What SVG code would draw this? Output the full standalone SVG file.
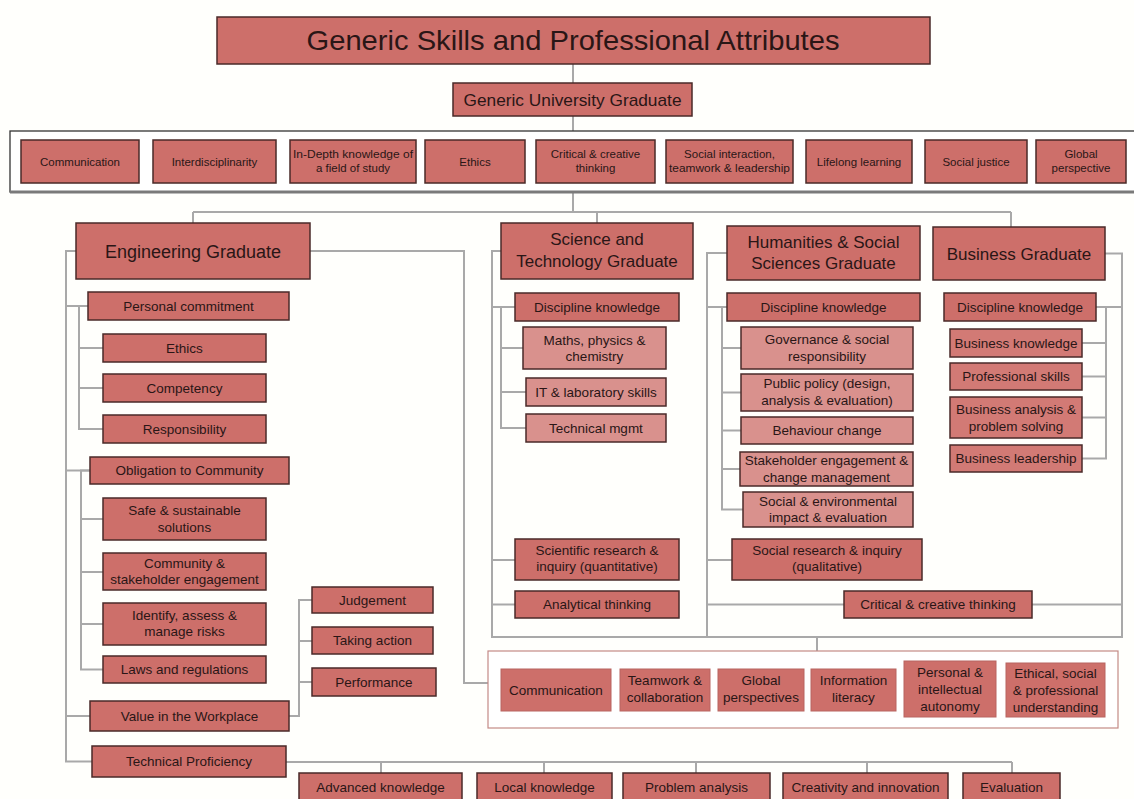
<svg xmlns="http://www.w3.org/2000/svg" width="1134" height="799" viewBox="0 0 1134 799">
<style>
.bg{fill:#fffffc}
.b{fill:#cd6f6a;stroke:#4a2a28;stroke-width:1.5}
.l{fill:#d9918d;stroke:#4a2a28;stroke-width:1.5}
.m{fill:#d27a75;stroke:#4a2a28;stroke-width:1.5}
.p{fill:#cd6f6a;stroke:#b86560;stroke-width:1}
.t{font-family:"Liberation Sans",Arial,sans-serif;fill:#2a1616;text-anchor:middle}
.s{font-size:11.5px}
.n{font-size:13.5px}
.h{font-size:18px}
.c{fill:none;stroke:#a9a9a9;stroke-width:2}
</style>
<rect class="bg" x="0" y="0" width="1134" height="799"/>

<g id="connectors">
<path class="c" d="M573 64V83M573 116V131M573 192V212M193 212H1011M193 212V223M597 212V223M1011 212V227"/>
<path class="c" d="M76 251H66V761.5H92M66 306H88M66 470.5H90M66 716H90"/>
<path class="c" d="M88 306H79V429H103M79 348H103M79 388H103"/>
<path class="c" d="M90 470.5H81V669.5H103M81 519H103M81 572H103M81 624H103"/>
<path class="c" d="M289 716H299V600H312M299 641H312M299 682H312"/>
<path class="c" d="M310 251H464V683H488"/>
<path class="c" d="M286 762H1012M381 762V773M544 762V773M696 762V773M867 762V773M1012 762V773"/>
<path class="c" d="M501 251H492V637H1122V253.5H1105M492 307H515M492 560H515M492 604.5H515"/>
<path class="c" d="M515 307H501V428H526M501 348H523M501 392H526"/>
<path class="c" d="M727 253H707V637M707 307H727M707 560H732M707 604.5H844M1032 604.5H1122"/>
<path class="c" d="M722 307V509.5H743M722 348H741M722 392.5H741M722 430.5H741M722 469H740"/>
<path class="c" d="M1096 307H1122M1106 307V458.5H1082M1082 343H1106M1082 376.5H1106M1082 417.5H1106"/>
<path class="c" d="M817 637V651"/>
</g>

<g id="title"><rect class="b" x="217" y="17" width="713" height="47"/><text class="t" x="573" y="50" font-size="28" textLength="533" lengthAdjust="spacingAndGlyphs">Generic Skills and Professional Attributes</text></g>
<g id="generic-university-graduate"><rect class="b" x="453" y="83" width="239" height="33"/><text class="t" x="572.5" y="105.5" font-size="17" textLength="218" lengthAdjust="spacingAndGlyphs">Generic University Graduate</text></g>

<g id="generic-attributes">
<rect x="10" y="131" width="1130" height="61" fill="#fff" stroke="#333" stroke-width="1.3"/>
<line x1="10" y1="192" x2="1134" y2="192" stroke="#7a7a7a" stroke-width="3"/>
</g>
<g id="g-communication"><rect class="b" x="21" y="140" width="118" height="43"/><text class="t s" x="80" y="165.5">Communication</text></g>
<g id="g-interdisciplinarity"><rect class="b" x="153" y="140" width="123" height="43"/><text class="t s" x="214.5" y="165.5">Interdisciplinarity</text></g>
<g id="g-indepth"><rect class="b" x="290" y="140" width="126" height="43"/><text class="t s" x="353" y="158" textLength="120" lengthAdjust="spacingAndGlyphs">In-Depth knowledge of</text><text class="t s" x="353" y="172">a field of study</text></g>
<g id="g-ethics"><rect class="b" x="425" y="140" width="100" height="43"/><text class="t s" x="475" y="165.5">Ethics</text></g>
<g id="g-critical"><rect class="b" x="536" y="140" width="119" height="43"/><text class="t s" x="595.5" y="158">Critical &amp; creative</text><text class="t s" x="595.5" y="172">thinking</text></g>
<g id="g-social-interaction"><rect class="b" x="666" y="140" width="127" height="43"/><text class="t s" x="729.5" y="158">Social interaction,</text><text class="t s" x="729.5" y="172" textLength="121" lengthAdjust="spacingAndGlyphs">teamwork &amp; leadership</text></g>
<g id="g-lifelong"><rect class="b" x="806" y="140" width="106" height="43"/><text class="t s" x="859" y="165.5">Lifelong learning</text></g>
<g id="g-social-justice"><rect class="b" x="925" y="140" width="102" height="43"/><text class="t s" x="976" y="165.5">Social justice</text></g>
<g id="g-global"><rect class="b" x="1036" y="140" width="90" height="43"/><text class="t s" x="1081" y="158">Global</text><text class="t s" x="1081" y="172">perspective</text></g>

<g id="engineering-graduate"><rect class="b" x="76" y="223" width="234" height="56"/><text class="t h" x="193" y="257.5">Engineering Graduate</text></g>
<g id="personal-commitment"><rect class="b" x="88" y="292" width="201" height="28"/><text class="t n" x="188.5" y="310.5">Personal commitment</text></g>
<g id="e-ethics"><rect class="b" x="103" y="334" width="163" height="28"/><text class="t n" x="184.5" y="352.5">Ethics</text></g>
<g id="competency"><rect class="b" x="103" y="374" width="163" height="28"/><text class="t n" x="184.5" y="392.5">Competency</text></g>
<g id="responsibility"><rect class="b" x="103" y="415" width="163" height="28"/><text class="t n" x="184.5" y="433.5">Responsibility</text></g>
<g id="obligation"><rect class="b" x="90" y="457" width="199" height="27"/><text class="t n" x="189.5" y="475">Obligation to Community</text></g>
<g id="safe"><rect class="b" x="103" y="498" width="163" height="42"/><text class="t n" x="184.5" y="514.5">Safe &amp; sustainable</text><text class="t n" x="184.5" y="531.5">solutions</text></g>
<g id="community"><rect class="b" x="103" y="553" width="163" height="37"/><text class="t n" x="184.5" y="567.5">Community &amp;</text><text class="t n" x="184.5" y="583.5">stakeholder engagement</text></g>
<g id="risks"><rect class="b" x="103" y="603" width="163" height="42"/><text class="t n" x="184.5" y="619.5">Identify, assess &amp;</text><text class="t n" x="184.5" y="635.5">manage risks</text></g>
<g id="laws"><rect class="b" x="103" y="656" width="163" height="27"/><text class="t n" x="184.5" y="674">Laws and regulations</text></g>
<g id="value"><rect class="b" x="90" y="701" width="199" height="30"/><text class="t n" x="189.5" y="720.5">Value in the Workplace</text></g>
<g id="judgement"><rect class="b" x="312" y="587" width="121" height="26"/><text class="t n" x="372.5" y="604.5">Judgement</text></g>
<g id="taking-action"><rect class="b" x="312" y="627" width="121" height="27"/><text class="t n" x="372.5" y="645">Taking action</text></g>
<g id="performance"><rect class="b" x="312" y="668" width="124" height="28"/><text class="t n" x="374" y="686.5">Performance</text></g>
<g id="technical-proficiency"><rect class="b" x="92" y="746" width="194" height="31"/><text class="t n" x="189" y="766">Technical Proficiency</text></g>
<g id="advanced-knowledge"><rect class="b" x="299" y="773" width="163" height="32"/><text class="t n" x="380.5" y="792">Advanced knowledge</text></g>
<g id="local-knowledge"><rect class="b" x="477" y="773" width="135" height="32"/><text class="t n" x="544.5" y="792">Local knowledge</text></g>
<g id="problem-analysis"><rect class="b" x="623" y="773" width="147" height="32"/><text class="t n" x="696.5" y="792">Problem analysis</text></g>
<g id="creativity"><rect class="b" x="783" y="773" width="165" height="32"/><text class="t n" x="865.5" y="792">Creativity and innovation</text></g>
<g id="evaluation"><rect class="b" x="963" y="773" width="97" height="32"/><text class="t n" x="1011.5" y="792">Evaluation</text></g>

<g id="science-graduate"><rect class="b" x="501" y="223" width="192" height="56"/><text class="t" x="597" y="245" font-size="17">Science and</text><text class="t" x="597" y="267" font-size="17">Technology Graduate</text></g>
<g id="s-discipline"><rect class="b" x="515" y="293" width="164" height="28"/><text class="t n" x="597" y="311.5">Discipline knowledge</text></g>
<g id="maths"><rect class="l" x="523" y="327" width="143" height="42"/><text class="t n" x="594.5" y="344.5">Maths, physics &amp;</text><text class="t n" x="594.5" y="360.5">chemistry</text></g>
<g id="it-lab"><rect class="l" x="526" y="378" width="140" height="28"/><text class="t n" x="596" y="396.5">IT &amp; laboratory skills</text></g>
<g id="tech-mgmt"><rect class="l" x="526" y="414" width="140" height="28"/><text class="t n" x="596" y="432.5">Technical mgmt</text></g>
<g id="scientific-research"><rect class="b" x="515" y="539" width="164" height="41"/><text class="t n" x="597" y="554.5">Scientific research &amp;</text><text class="t n" x="597" y="570.5">inquiry (quantitative)</text></g>
<g id="analytical"><rect class="b" x="515" y="591" width="164" height="27"/><text class="t n" x="597" y="609">Analytical thinking</text></g>

<g id="humanities-graduate"><rect class="b" x="727" y="226" width="193" height="54"/><text class="t" x="823.5" y="248" font-size="17">Humanities &amp; Social</text><text class="t" x="823.5" y="269" font-size="17">Sciences Graduate</text></g>
<g id="h-discipline"><rect class="b" x="727" y="293" width="193" height="28"/><text class="t n" x="823.5" y="311.5">Discipline knowledge</text></g>
<g id="governance"><rect class="l" x="741" y="327" width="172" height="42"/><text class="t n" x="827" y="343.5">Governance &amp; social</text><text class="t n" x="827" y="360.5">responsibility</text></g>
<g id="public-policy"><rect class="l" x="741" y="374" width="172" height="37"/><text class="t n" x="827" y="387.5">Public policy (design,</text><text class="t n" x="827" y="404.5">analysis &amp; evaluation)</text></g>
<g id="behaviour"><rect class="l" x="741" y="417" width="172" height="27"/><text class="t n" x="827" y="435">Behaviour change</text></g>
<g id="stakeholder"><rect class="l" x="740" y="452" width="173" height="34"/><text class="t n" x="826.5" y="465">Stakeholder engagement &amp;</text><text class="t n" x="826.5" y="482">change management</text></g>
<g id="social-env"><rect class="l" x="743" y="492" width="170" height="35"/><text class="t n" x="828" y="505.5">Social &amp; environmental</text><text class="t n" x="828" y="522">impact &amp; evaluation</text></g>
<g id="social-research"><rect class="b" x="732" y="539" width="190" height="41"/><text class="t n" x="827" y="554.5">Social research &amp; inquiry</text><text class="t n" x="827" y="570.5">(qualitative)</text></g>
<g id="h-critical"><rect class="b" x="844" y="591" width="188" height="27"/><text class="t n" x="938" y="609">Critical &amp; creative thinking</text></g>

<g id="business-graduate"><rect class="b" x="933" y="227" width="172" height="53"/><text class="t" x="1019" y="259.5" font-size="17">Business Graduate</text></g>
<g id="b-discipline"><rect class="b" x="944" y="293" width="152" height="28"/><text class="t n" x="1020" y="311.5">Discipline knowledge</text></g>
<g id="business-knowledge"><rect class="m" x="950" y="329" width="132" height="28"/><text class="t n" x="1016" y="347.5">Business knowledge</text></g>
<g id="professional-skills"><rect class="m" x="950" y="363" width="132" height="27"/><text class="t n" x="1016" y="381">Professional skills</text></g>
<g id="business-analysis"><rect class="m" x="950" y="397" width="132" height="41"/><text class="t n" x="1016" y="413.5">Business analysis &amp;</text><text class="t n" x="1016" y="430.5">problem solving</text></g>
<g id="business-leadership"><rect class="m" x="950" y="445" width="132" height="27"/><text class="t n" x="1016" y="463">Business leadership</text></g>

<g id="shared-attributes"><rect x="488" y="651" width="630" height="77" fill="#fff" stroke="#c48a86" stroke-width="1.2"/></g>
<g id="sh-communication"><rect class="p" x="501" y="669" width="110" height="42"/><text class="t n" x="556" y="695">Communication</text></g>
<g id="sh-teamwork"><rect class="p" x="620" y="669" width="90" height="42"/><text class="t n" x="665" y="685">Teamwork &amp;</text><text class="t n" x="665" y="702">collaboration</text></g>
<g id="sh-global"><rect class="p" x="718" y="669" width="86" height="42"/><text class="t n" x="761" y="685">Global</text><text class="t n" x="761" y="702">perspectives</text></g>
<g id="sh-information"><rect class="p" x="811" y="669" width="85" height="42"/><text class="t n" x="853.5" y="685">Information</text><text class="t n" x="853.5" y="702">literacy</text></g>
<g id="sh-personal"><rect class="p" x="904" y="661" width="92" height="56"/><text class="t n" x="950" y="677">Personal &amp;</text><text class="t n" x="950" y="694">intellectual</text><text class="t n" x="950" y="711">autonomy</text></g>
<g id="sh-ethical"><rect class="p" x="1006" y="663" width="99" height="54"/><text class="t n" x="1055.5" y="678">Ethical, social</text><text class="t n" x="1055.5" y="695">&amp; professional</text><text class="t n" x="1055.5" y="712">understanding</text></g>
</svg>
